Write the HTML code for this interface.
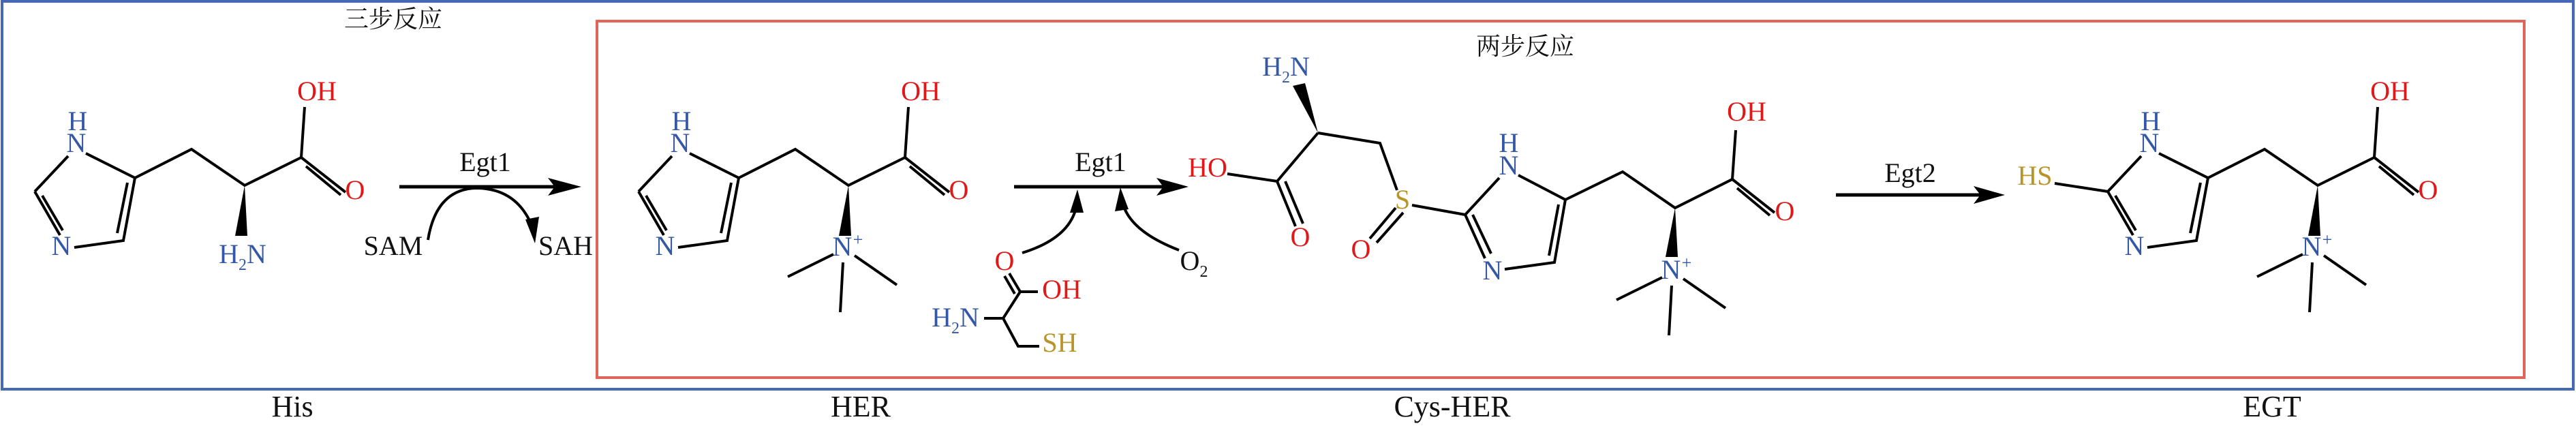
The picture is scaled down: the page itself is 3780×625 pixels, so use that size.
<!DOCTYPE html>
<html><head><meta charset="utf-8"><style>
html,body{margin:0;padding:0;background:#fff;}
svg{display:block;}
text,tspan{font-family:"Liberation Serif","Noto Serif CJK SC",serif;}
.b{stroke:#000;stroke-width:4;fill:none;stroke-linecap:butt;}
.bl{fill:#3457a6;}.rd{fill:#e01818;}.gd{fill:#b8942a;}.k{fill:#111;}
</style></head><body>
<svg width="3780" height="625" viewBox="0 0 3780 625" xmlns="http://www.w3.org/2000/svg" font-family="'Liberation Serif','Noto Serif CJK SC',serif">
<defs>
<g id="core">
  <polyline class="b" points="126,225 198,261 181,353 109,363"/>
  <line class="b" x1="187" y1="268" x2="172" y2="342"/>
  <line class="b" x1="100" y1="229" x2="51" y2="281"/>
  <line class="b" x1="51" y1="281" x2="88" y2="345"/>
  <line class="b" x1="62" y1="287" x2="92" y2="338"/>
  <polyline class="b" points="198,261 281,219 359,272 442,231 447,157"/>
  <line class="b" x1="442" y1="231" x2="507" y2="282"/>
  <line class="b" x1="449" y1="244" x2="500" y2="286"/>
  <polygon points="359,272 345,346 363,346" fill="#000"/>
  <text x="114" y="191" class="bl" font-size="40" text-anchor="middle" font-family="Liberation Serif, serif">H</text>
  <text x="112" y="223" class="bl" font-size="40" text-anchor="middle" font-family="Liberation Serif, serif">N</text>
  <text x="90" y="374" class="bl" font-size="40" text-anchor="middle" font-family="Liberation Serif, serif">N</text>
  <text x="465" y="147" class="rd" font-size="40" text-anchor="middle" font-family="Liberation Serif, serif">OH</text>
  <text x="521" y="292" class="rd" font-size="40" text-anchor="middle" font-family="Liberation Serif, serif">O</text>
</g>
<g id="nme3">
  <text x="350" y="375" class="bl" font-size="40" text-anchor="middle" font-family="Liberation Serif, serif">N</text>
  <text x="373" y="360" class="bl" font-size="26" text-anchor="middle" font-family="Liberation Serif, serif">+</text>
  <line class="b" x1="337" y1="373" x2="270" y2="406"/>
  <line class="b" x1="351" y1="385" x2="347" y2="458"/>
  <line class="b" x1="368" y1="375" x2="430" y2="418"/>
</g>
</defs>

<rect x="3" y="2" width="3773" height="569" fill="none" stroke="#4468b4" stroke-width="4"/>
<rect x="876" y="31" width="2828" height="523" fill="none" stroke="#e0645a" stroke-width="4"/>

<text x="577" y="40" class="k" font-size="36" text-anchor="middle">三步反应</text>
<text x="2238" y="80" class="k" font-size="36" text-anchor="middle">两步反应</text>

<use href="#core"/>
<text x="356" y="386" class="bl" font-size="40" text-anchor="middle">H<tspan font-size="24" dy="10">2</tspan><tspan dy="-10">N</tspan></text>

<line x1="586" y1="274" x2="830" y2="274" stroke="#000" stroke-width="5"/>
<polygon points="853,274 804,261 814,274 804,287" fill="#000"/>
<text x="712" y="251" class="k" font-size="40" text-anchor="middle">Egt1</text>
<path d="M628,352 Q 640,278 698,276 Q 757,276 780,330" fill="none" stroke="#000" stroke-width="4"/>
<polygon points="785,357 771,322 791,318" fill="#000"/>
<text x="577" y="374" class="k" font-size="40" text-anchor="middle">SAM</text>
<text x="830" y="374" class="k" font-size="40" text-anchor="middle">SAH</text>
<text x="429" y="611" class="k" font-size="44" text-anchor="middle">His</text>

<g transform="translate(886,0)"><use href="#core"/><use href="#nme3"/></g>

<line x1="1488" y1="274" x2="1725" y2="274" stroke="#000" stroke-width="5"/>
<polygon points="1744,274 1697,261 1707,274 1697,287" fill="#000"/>
<text x="1615" y="251" class="k" font-size="40" text-anchor="middle">Egt1</text>
<path d="M1500,371 Q 1568,350 1579,305" fill="none" stroke="#000" stroke-width="4"/>
<polygon points="1581,278 1570,312 1590,312" fill="#000"/>
<path d="M1730,367 Q 1660,340 1648,300" fill="none" stroke="#000" stroke-width="4"/>
<polygon points="1644,275 1636,310 1656,307" fill="#000"/>
<text x="1474" y="396" class="rd" font-size="40" text-anchor="middle">O</text>
<text x="1752" y="396" class="k" font-size="40" text-anchor="middle">O<tspan font-size="24" dy="10">2</tspan></text>
<line class="b" x1="1497" y1="428" x2="1481" y2="401"/>
<line class="b" x1="1489" y1="431" x2="1474" y2="405"/>
<line class="b" x1="1497" y1="428" x2="1523" y2="428"/>
<polyline class="b" points="1497,428 1472,467 1444,467"/>
<polyline class="b" points="1472,467 1494,508 1525,508"/>
<text x="1558" y="438" class="rd" font-size="40" text-anchor="middle">OH</text>
<text x="1402" y="479" class="bl" font-size="40" text-anchor="middle">H<tspan font-size="24" dy="10">2</tspan><tspan dy="-10">N</tspan></text>
<text x="1555" y="516" class="gd" font-size="40" text-anchor="middle">SH</text>
<text x="1263" y="611" class="k" font-size="44" text-anchor="middle">HER</text>

<text x="1887" y="111" class="bl" font-size="40" text-anchor="middle">H<tspan font-size="24" dy="10">2</tspan><tspan dy="-10">N</tspan></text>
<polygon points="1897,126 1915,122 1934,195" fill="#000"/>
<polyline class="b" points="1934,195 1874,266 1801,255"/>
<line class="b" x1="1874" y1="266" x2="1901" y2="332"/>
<line class="b" x1="1886" y1="266" x2="1912" y2="328"/>
<text x="1772" y="259" class="rd" font-size="40" text-anchor="middle">HO</text>
<text x="1908" y="361" class="rd" font-size="40" text-anchor="middle">O</text>
<polyline class="b" points="1934,195 2025,210 2050,279"/>
<text x="2058" y="306" class="gd" font-size="40" text-anchor="middle">S</text>
<line class="b" x1="2048" y1="305" x2="2010" y2="350"/>
<line class="b" x1="2059" y1="312" x2="2020" y2="356"/>
<text x="1997" y="379" class="rd" font-size="40" text-anchor="middle">O</text>
<line class="b" x1="2072" y1="301" x2="2150" y2="315"/>
<line class="b" x1="2150" y1="315" x2="2200" y2="261"/>
<polyline class="b" points="2228,257 2297,293 2281,385 2208,395"/>
<line class="b" x1="2287" y1="300" x2="2273" y2="375"/>
<line class="b" x1="2150" y1="315" x2="2179" y2="379"/>
<line class="b" x1="2161" y1="315" x2="2188" y2="372"/>
<text x="2214" y="223" class="bl" font-size="40" text-anchor="middle">H</text>
<text x="2214" y="256" class="bl" font-size="40" text-anchor="middle">N</text>
<text x="2190" y="410" class="bl" font-size="40" text-anchor="middle">N</text>
<polyline class="b" points="2297,293 2381,252 2458,305 2542,263 2547,191"/>
<line class="b" x1="2542" y1="263" x2="2604" y2="312"/>
<line class="b" x1="2549" y1="276" x2="2597" y2="316"/>
<text x="2563" y="177" class="rd" font-size="40" text-anchor="middle">OH</text>
<text x="2619" y="323" class="rd" font-size="40" text-anchor="middle">O</text>
<polygon points="2458,305 2444,377 2462,377" fill="#000"/>
<g transform="translate(2102,34)"><use href="#nme3"/></g>
<text x="2131" y="611" class="k" font-size="44" text-anchor="middle">Cys-HER</text>

<line x1="2694" y1="286" x2="2925" y2="286" stroke="#000" stroke-width="5"/>
<polygon points="2942,286 2896,273 2906,286 2896,299" fill="#000"/>
<text x="2803" y="267" class="k" font-size="40" text-anchor="middle">Egt2</text>

<g transform="translate(3042,0)"><use href="#core"/><use href="#nme3"/></g>
<line class="b" x1="3015" y1="269" x2="3093" y2="281"/>
<text x="2986" y="271" class="gd" font-size="40" text-anchor="middle">HS</text>
<text x="3334" y="611" class="k" font-size="44" text-anchor="middle">EGT</text>
</svg>
</body></html>
